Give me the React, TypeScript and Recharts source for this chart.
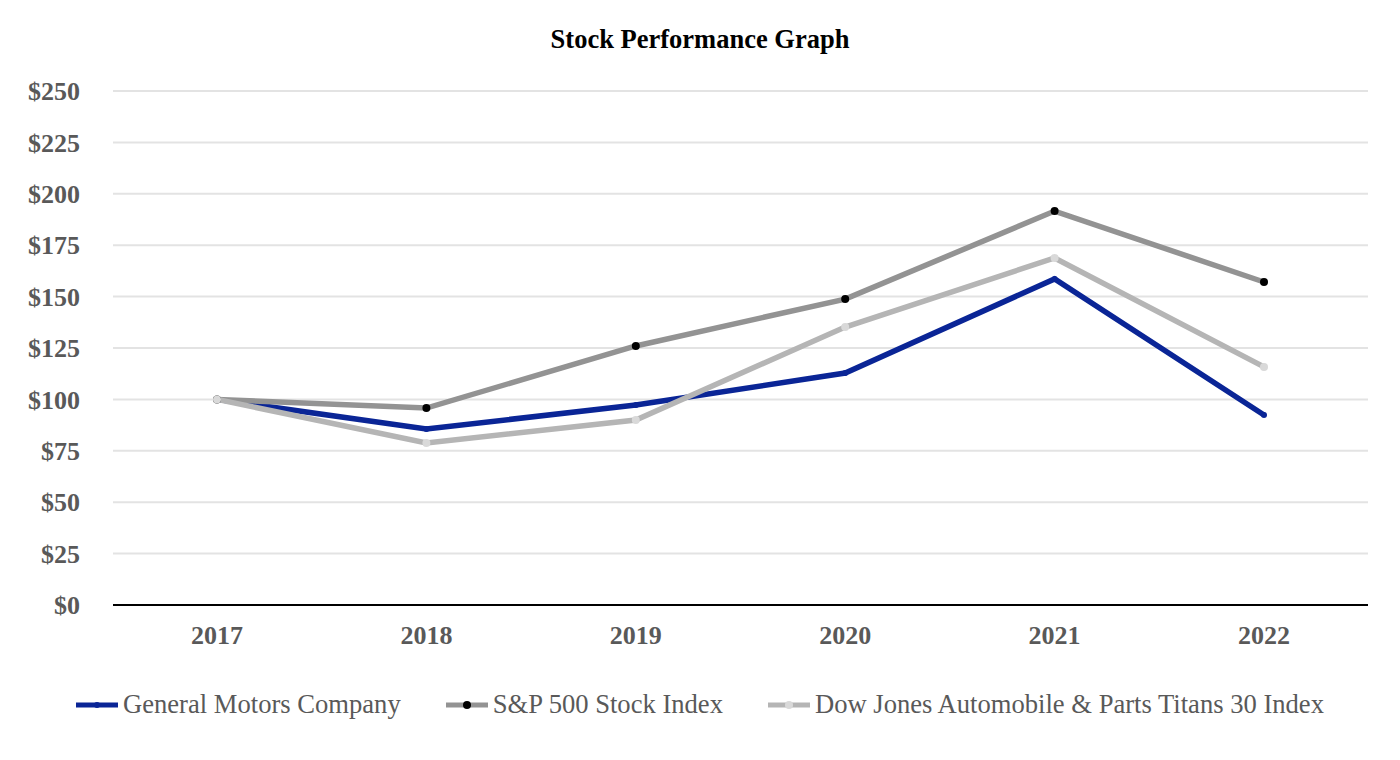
import React from 'react';
import { LineChart, Line, XAxis, YAxis, CartesianGrid, Legend, ReferenceLine } from 'recharts';

const years = ['2017', '2018', '2019', '2020', '2021', '2022'];
const gm = [100, 85.6, 97.3, 112.8, 158.6, 92.4];
const sp500 = [100, 95.8, 126, 148.8, 191.6, 157.1];
const dowJones = [100, 78.8, 90, 135.2, 168.8, 115.8];
const yTicks = [0, 25, 50, 75, 100, 125, 150, 175, 200, 225, 250];

const data = years.map((year, i) => ({
  year,
  gm: gm[i],
  sp500: sp500[i],
  dowJones: dowJones[i],
}));

const FONT = '"Liberation Serif", "Times New Roman", serif';
const GRAY_TEXT = '#595959';

const series = [
  { key: 'gm', name: 'General Motors Company', stroke: '#0a2596', dot: '#0a2596', r: 3 },
  { key: 'sp500', name: 'S&P 500 Stock Index', stroke: '#939393', dot: '#000000', r: 4 },
  { key: 'dowJones', name: 'Dow Jones Automobile & Parts Titans 30 Index', stroke: '#b5b5b5', dot: '#d9d9d9', r: 4 },
];

const renderLegend = () => (
  <div style={{ display: 'flex', justifyContent: 'center', gap: 45, fontFamily: FONT, fontSize: 26.6, color: GRAY_TEXT }}>
    {series.map((s) => (
      <div key={s.key} style={{ display: 'flex', alignItems: 'center' }}>
        <svg width={42} height={12} style={{ marginRight: 5 }}>
          <line x1={0} y1={6} x2={42} y2={6} stroke={s.stroke} strokeWidth={5} />
          <circle cx={21} cy={6} r={s.r} fill={s.dot} />
        </svg>
        <span>{s.name}</span>
      </div>
    ))}
  </div>
);

const App: React.FC = () => {
  return (
    <div style={{ position: 'absolute', left: 0, top: 0, width: 1400, height: 760, background: '#fff' }}>
      <div
        style={{
          position: 'absolute',
          top: 24,
          left: 0,
          width: 1400,
          textAlign: 'center',
          fontFamily: FONT,
          fontWeight: 'bold',
          fontSize: 26.5,
          color: '#000',
        }}
      >
        Stock Performance Graph
      </div>
      <LineChart width={1400} height={760} data={data} margin={{ top: 91, right: 32, bottom: 125, left: 0 }}>
        <CartesianGrid vertical={false} stroke="#e3e3e3" strokeWidth={2} />
        <XAxis
          dataKey="year"
          axisLine={false}
          tickLine={false}
          tickSize={0}
          tickMargin={21}
          padding={{ left: 104, right: 104 }}
          tick={{ fill: GRAY_TEXT, fontFamily: FONT, fontSize: 26, fontWeight: 'bold' }}
        />
        <YAxis
          width={113}
          domain={[0, 250]}
          ticks={yTicks}
          axisLine={false}
          tickLine={false}
          tickSize={0}
          tickMargin={33}
          tickFormatter={(v: number) => `$${v}`}
          tick={{ fill: GRAY_TEXT, fontFamily: FONT, fontSize: 26, fontWeight: 'bold' }}
        />
        <ReferenceLine y={0} stroke="#000" strokeWidth={2} />
        <Legend
          layout="horizontal"
          verticalAlign="middle"
          align="center"
          content={renderLegend}
          wrapperStyle={{ position: 'absolute', top: 689, left: 0, width: 1400 }}
        />
        {series.map((s) => (
          <Line
            key={s.key}
            type="linear"
            dataKey={s.key}
            name={s.name}
            stroke={s.stroke}
            strokeWidth={5.5}
            dot={{ r: s.r, fill: s.dot, stroke: s.dot, strokeWidth: 0 }}
            activeDot={false}
            isAnimationActive={false}
          />
        ))}
      </LineChart>
    </div>
  );
};

export default App;
